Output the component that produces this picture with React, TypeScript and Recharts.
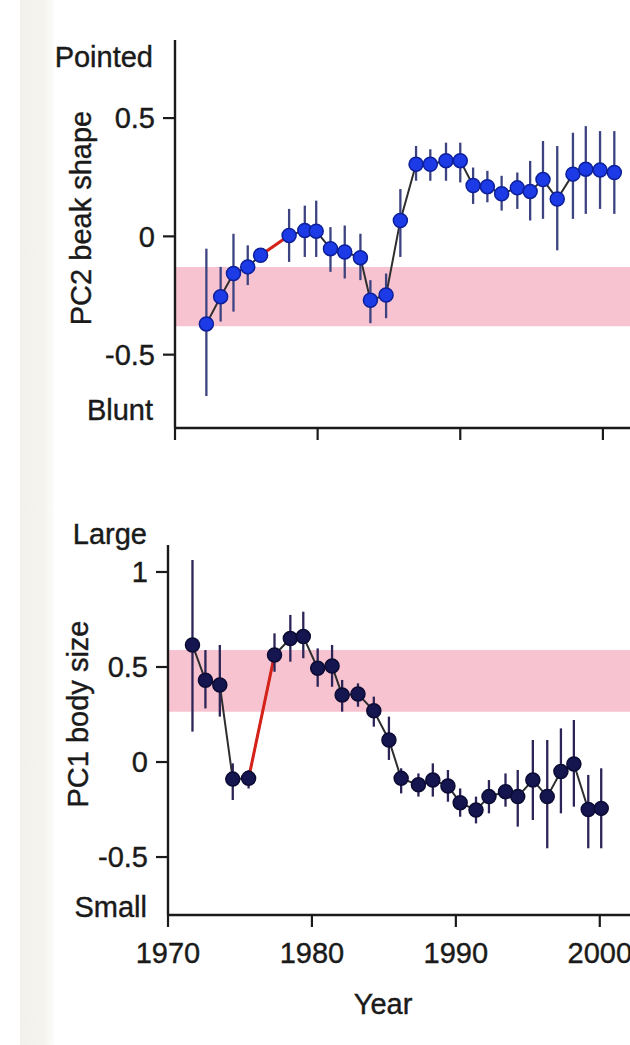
import React from 'react';
import { ComposedChart, Line, XAxis, YAxis, ErrorBar, ReferenceArea } from 'recharts';

// PC2 beak shape (top panel)
const beakYears = [1972.2, 1973.2, 1974.1, 1975.1, 1976.0, 1978.0, 1979.1, 1979.9, 1980.9, 1981.9, 1983.0, 1983.7, 1984.8, 1985.8, 1986.9, 1987.9, 1989.0, 1990.0, 1990.9, 1991.9, 1992.9, 1994.0, 1994.9, 1995.8, 1996.8, 1997.9, 1998.8, 1999.8, 2000.8];
const beakValues = [-0.37, -0.255, -0.157, -0.129, -0.08, 0.004, 0.025, 0.022, -0.052, -0.066, -0.09, -0.27, -0.248, 0.067, 0.305, 0.305, 0.32, 0.32, 0.215, 0.21, 0.18, 0.205, 0.19, 0.24, 0.158, 0.263, 0.284, 0.28, 0.27];
const beakHigh = [-0.052, -0.129, 0.011, -0.038, -0.05, 0.116, 0.13, 0.151, 0.039, 0.046, 0.011, -0.185, -0.157, 0.2, 0.382, 0.368, 0.396, 0.396, 0.291, 0.277, 0.256, 0.27, 0.319, 0.403, 0.382, 0.438, 0.466, 0.445, 0.445];
const beakLow = [-0.675, -0.36, -0.318, -0.206, -0.11, -0.108, -0.087, -0.087, -0.15, -0.178, -0.185, -0.367, -0.346, -0.087, 0.235, 0.235, 0.235, 0.228, 0.137, 0.144, 0.109, 0.116, 0.067, 0.074, -0.059, 0.074, 0.095, 0.116, 0.095];
const beakRed = [4, 5];
const beakBand = [-0.38, -0.13];
const beakTicks = [-0.5, 0, 0.5];

// PC1 body size (bottom panel)
const sizeYears = [1971.7, 1972.6, 1973.6, 1974.5, 1975.6, 1977.4, 1978.5, 1979.4, 1980.4, 1981.4, 1982.1, 1983.2, 1984.3, 1985.35, 1986.2, 1987.4, 1988.4, 1989.45, 1990.3, 1991.4, 1992.3, 1993.45, 1994.3, 1995.35, 1996.35, 1997.3, 1998.2, 1999.2, 2000.1];
const sizeValues = [0.616, 0.43, 0.405, -0.09, -0.086, 0.563, 0.65, 0.66, 0.493, 0.505, 0.353, 0.358, 0.27, 0.116, -0.086, -0.12, -0.095, -0.126, -0.214, -0.253, -0.182, -0.156, -0.182, -0.095, -0.182, -0.05, -0.01, -0.25, -0.244];
const sizeHigh = [1.063, 0.589, 0.616, -0.007, -0.042, 0.677, 0.774, 0.791, 0.598, 0.616, 0.432, 0.414, 0.344, 0.239, -0.033, -0.06, -0.007, -0.042, -0.139, -0.182, -0.095, -0.06, -0.042, 0.116, 0.116, 0.177, 0.221, -0.068, -0.033];
const sizeLow = [0.16, 0.282, 0.239, -0.2, -0.139, 0.475, 0.528, 0.546, 0.396, 0.396, 0.265, 0.291, 0.186, 0.011, -0.165, -0.182, -0.182, -0.209, -0.288, -0.323, -0.27, -0.235, -0.34, -0.305, -0.454, -0.27, -0.235, -0.454, -0.454];
const sizeRed = [4, 5];
const sizeBand = [0.265, 0.59];
const sizeTicks = [-0.5, 0, 0.5, 1];

const yearTicks = [1970, 1980, 1990, 2000];

const FONT = '"Liberation Sans", Arial, Helvetica, sans-serif';
const INK = '#1a1a1a';
const FS = 29;

const buildRows = (years: number[], vals: number[], hi: number[], lo: number[], red: number[]) =>
    years.map((year, i) => ({
        year,
        v: vals[i],
        err: [vals[i] - lo[i], hi[i] - vals[i]],
        red: red.includes(i) ? vals[i] : null,
    }));

const makeDot = (fill: string, stroke: string) => (props: any) => {
    const { cx, cy, index } = props;
    if (cx == null || cy == null) return <g key={`d-${index}`} />;
    return <circle key={`d-${index}`} cx={cx} cy={cy} r={7} fill={fill} stroke={stroke} strokeWidth={1.5} />;
};

const fmt = (v: number) => (v === 0 ? '0' : String(v));

interface PanelProps {
    rows: any[];
    height: number;
    top: number;
    xAxisHeight: number;
    axisWidth: number;
    xDomain: [number, number];
    yDomain: [number, number];
    yTicks: number[];
    band: number[];
    dotFill: string;
    dotStroke: string;
    errColor: string;
    showYears: boolean;
}

const tickStyle = { fill: INK, fontSize: FS, fontFamily: FONT, stroke: INK, strokeWidth: 0.4 };

const Panel: React.FC<PanelProps> = ({
    rows, height, top, xAxisHeight, axisWidth, xDomain, yDomain, yTicks, band, dotFill, dotStroke, errColor, showYears
}) => (
    <ComposedChart width={630} height={height} data={rows} margin={{ top, right: 0, bottom: 0, left: 0 }}>
        <ReferenceArea y1={band[0]} y2={band[1]} fill="#f7c3d1" fillOpacity={1} stroke="none" />
        <XAxis
            dataKey="year"
            type="number"
            domain={xDomain}
            ticks={yearTicks}
            allowDataOverflow
            height={xAxisHeight}
            tickSize={12}
            tickMargin={15}
            axisLine={{ stroke: INK, strokeWidth: 2.4 }}
            tickLine={{ stroke: INK, strokeWidth: 2.2 }}
            tick={tickStyle}
            tickFormatter={(v) => (showYears ? String(v) : '')}
        />
        <YAxis
            type="number"
            domain={yDomain}
            ticks={yTicks}
            allowDataOverflow
            width={axisWidth}
            tickSize={12}
            tickMargin={8}
            axisLine={{ stroke: INK, strokeWidth: 2.4 }}
            tickLine={{ stroke: INK, strokeWidth: 2.2 }}
            tick={tickStyle}
            tickFormatter={fmt}
        />
        <Line dataKey="v" type="linear" stroke="#2e2e2e" strokeWidth={2} dot={false} activeDot={false} isAnimationActive={false} />
        <Line dataKey="red" type="linear" stroke="#d6231a" strokeWidth={3} dot={false} activeDot={false} connectNulls={false} isAnimationActive={false} />
        <Line dataKey="v" type="linear" stroke="none" dot={makeDot(dotFill, dotStroke)} activeDot={false} isAnimationActive={false}>
            <ErrorBar dataKey="err" width={0} stroke={errColor} strokeWidth={2.3} direction="y" />
        </Line>
    </ComposedChart>
);

const textStyle: React.CSSProperties = {
    position: 'absolute',
    fontFamily: FONT,
    fontSize: FS,
    lineHeight: `${FS}px`,
    color: INK,
    whiteSpace: 'nowrap',
    WebkitTextStroke: '0.4px #1a1a1a',
};

const Label = ({ text, right, top }: { text: string; right: number; top: number }) => (
    <div style={{ ...textStyle, left: 0, width: right, textAlign: 'right', top }}>{text}</div>
);

const VLabel = ({ text, cx, cy }: { text: string; cx: number; cy: number }) => (
    <div style={{ ...textStyle, left: cx, top: cy, transform: 'translate(-50%, -50%) rotate(-90deg)' }}>{text}</div>
);

export default function App() {
    const beakRows = buildRows(beakYears, beakValues, beakHigh, beakLow, beakRed);
    const sizeRows = buildRows(sizeYears, sizeValues, sizeHigh, sizeLow, sizeRed);

    return (
        <div style={{ position: 'absolute', left: 0, top: 0, width: 630, height: 1045, background: '#fff', overflow: 'hidden' }}>
            <div style={{ position: 'absolute', left: 20, top: 0, width: 34, height: 1045, background: 'linear-gradient(to right, #f2f1ec, #f5f4ef 70%, #fcfcfa)' }} />
            <div style={{ position: 'absolute', left: 0, top: 0 }}>
                <Panel
                    rows={beakRows}
                    height={470}
                    top={40}
                    xAxisHeight={42}
                    axisWidth={175}
                    xDomain={[1970, 2001.9]}
                    yDomain={[-0.81, 0.83]}
                    yTicks={beakTicks}
                    band={beakBand}
                    dotFill="#1c3be6"
                    dotStroke="#0d1f9a"
                    errColor="#3c4380"
                    showYears={false}
                />
            </div>
            <div style={{ position: 'absolute', left: 0, top: 500 }}>
                <Panel
                    rows={sizeRows}
                    height={545}
                    top={45}
                    xAxisHeight={130}
                    axisWidth={168}
                    xDomain={[1970, 2002.1]}
                    yDomain={[-0.805, 1.142]}
                    yTicks={sizeTicks}
                    band={sizeBand}
                    dotFill="#15154f"
                    dotStroke="#0b0b33"
                    errColor="#2c2456"
                    showYears={true}
                />
            </div>
            <Label text="Pointed" right={153} top={43} />
            <Label text="Blunt" right={153} top={396} />
            <Label text="Large" right={147} top={520} />
            <Label text="Small" right={147} top={893} />
            <VLabel text="PC2 beak shape" cx={81} cy={218} />
            <VLabel text="PC1 body size" cx={78} cy={714} />
            <div style={{ ...textStyle, left: 383, top: 990, transform: 'translateX(-50%)' }}>Year</div>
        </div>
    );
}
